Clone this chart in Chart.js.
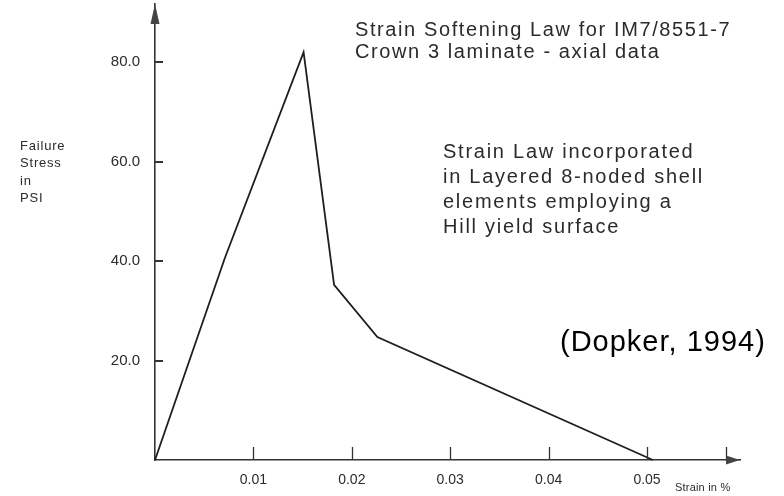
<!DOCTYPE html>
<html>
<head>
<meta charset="utf-8">
<script src="https://cdn.jsdelivr.net/npm/chart.js@4.4.1/dist/chart.umd.min.js"></script>
<style>
  html, body { margin: 0; padding: 0; background: #fff; }
  #wrap { width: 784px; height: 496px; }
</style>
</head>
<body>
<div id="wrap"><canvas id="strainChart" width="784" height="496"></canvas></div>
<script>
// values
var strain = [0, 0.0071, 0.0151, 0.0182, 0.0226, 0.0506];
var stress = [0, 40.6, 82.0, 35.2, 24.7, 0];
var xTickValues = [0.01, 0.02, 0.03, 0.04, 0.05, 0.058];
var xTickLabels = ['0.01', '0.02', '0.03', '0.04', '0.05', ''];
var yTickValues = [20, 40, 60, 80];
var yTickLabels = ['20.0', '40.0', '60.0', '80.0'];

var titleLines = ['Strain Softening Law for IM7/8551-7', 'Crown 3 laminate - axial data'];
var noteLines = ['Strain Law incorporated', 'in Layered 8-noded shell', 'elements employing a', 'Hill yield surface'];
var yLabelLines = ['Failure', 'Stress', 'in', 'PSI'];
var xLabel = 'Strain in %';
var source = '(Dopker, 1994)';

var FONT = '"Liberation Sans", Arial, Helvetica, sans-serif';
var INK = '#2b2b2b';

function drawLines(ctx, lines, x, y, lh, size, spacing, color) {
  ctx.save();
  ctx.font = size + 'px ' + FONT;
  ctx.letterSpacing = spacing + 'px';
  ctx.fillStyle = color;
  ctx.textAlign = 'left';
  ctx.textBaseline = 'middle';
  lines.forEach(function(t, i) { ctx.fillText(t, x, y + i * lh); });
  ctx.restore();
}

// inner tick marks, arrow heads and the free text
var decorations = {
  id: 'decorations',
  afterDraw: function(chart) {
    var ctx = chart.ctx;
    var a = chart.chartArea;
    var xs = chart.scales.x, ys = chart.scales.y;
    ctx.save();
    ctx.strokeStyle = '#333';
    ctx.lineWidth = 1.3;
    xTickValues.forEach(function(v) {
      var px = Math.round(xs.getPixelForValue(v)) + 0.5;
      ctx.beginPath(); ctx.moveTo(px, a.bottom); ctx.lineTo(px, a.bottom - 13); ctx.stroke();
    });
    ctx.lineWidth = 2;
    yTickValues.forEach(function(v) {
      var py = Math.round(ys.getPixelForValue(v));
      ctx.beginPath(); ctx.moveTo(a.left, py); ctx.lineTo(a.left + 8, py); ctx.stroke();
    });
    // arrows
    ctx.fillStyle = '#444';
    ctx.beginPath();
    ctx.moveTo(a.left, a.top); ctx.lineTo(a.left - 4.5, a.top + 20); ctx.lineTo(a.left + 4.5, a.top + 20);
    ctx.closePath(); ctx.fill();
    ctx.beginPath();
    ctx.moveTo(a.right, a.bottom); ctx.lineTo(a.right - 14, a.bottom - 4.5); ctx.lineTo(a.right - 14, a.bottom + 4.5);
    ctx.closePath(); ctx.fill();
    ctx.restore();

    drawLines(ctx, titleLines, 355, 30, 22, 20, 1.6, INK);
    drawLines(ctx, noteLines, 443, 152, 25, 20, 1.75, INK);
    drawLines(ctx, yLabelLines, 20, 146, 17.5, 13, 0.8, INK);
    drawLines(ctx, [xLabel], 675, 488, 0, 11, 0.2, INK);
    drawLines(ctx, [source], 560, 343, 0, 29, 1, '#000');
  }
};

function noPad(s) {
  s.paddingTop = 0; s.paddingBottom = 0; s.paddingLeft = 0; s.paddingRight = 0;
}

document.addEventListener('DOMContentLoaded', function() {
  var ctx = document.getElementById('strainChart').getContext('2d');
  var pts = strain.map(function(s, i) { return { x: s, y: stress[i] }; });
  var myLineChart = new Chart(ctx, {
    type: 'line',
    data: {
      datasets: [{
        data: pts,
        borderColor: '#1e1e1e',
        borderWidth: 1.8,
        pointRadius: 0,
        tension: 0,
        fill: false,
        clip: false
      }]
    },
    options: {
      responsive: false,
      animation: false,
      events: [],
      layout: { padding: { left: 0, top: 4, right: 44, bottom: 0 } },
      plugins: { legend: { display: false }, tooltip: { enabled: false } },
      scales: {
        x: {
          type: 'linear',
          min: 0,
          max: 0.05945,
          afterFit: function(s) { s.height = 36; noPad(s); },
          afterBuildTicks: function(s) { s.ticks = xTickValues.map(function(v) { return { value: v }; }); },
          grid: { display: false, drawTicks: false },
          border: { display: true, color: '#333', width: 1.6 },
          ticks: {
            padding: 12,
            maxRotation: 0,
            autoSkip: false,
            color: INK,
            font: { family: FONT, size: 14 },
            callback: function(v, i) { return xTickLabels[i]; }
          }
        },
        y: {
          type: 'linear',
          min: 0,
          max: 91.66,
          afterFit: function(s) { s.width = 155; noPad(s); },
          afterBuildTicks: function(s) { s.ticks = yTickValues.map(function(v) { return { value: v }; }); },
          grid: { display: false, drawTicks: false },
          border: { display: true, color: '#333', width: 1.6 },
          ticks: {
            padding: 15,
            autoSkip: false,
            color: INK,
            font: { family: FONT, size: 15 },
            callback: function(v, i) { return yTickLabels[i]; }
          }
        }
      }
    },
    plugins: [decorations]
  });
});
</script>
</body>
</html>
